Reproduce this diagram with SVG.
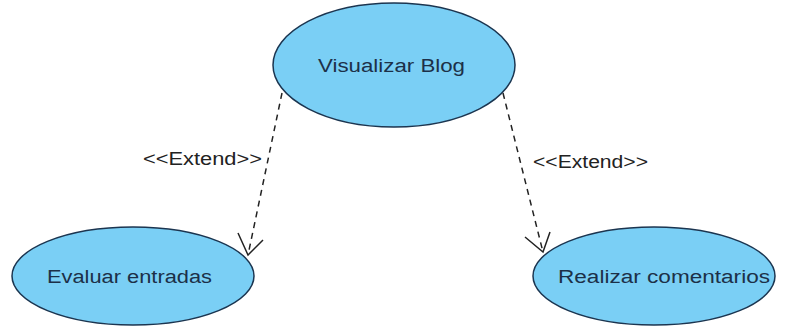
<svg xmlns="http://www.w3.org/2000/svg" width="785" height="328" viewBox="0 0 785 328">
<defs>
<style>
.uc{fill:#7acff5;stroke:#1b3550;stroke-width:1.5}
.t{font-family:"Liberation Sans",Arial,sans-serif;font-size:18px;fill:#1c3048}
.lbl{font-family:"Liberation Sans",Arial,sans-serif;font-size:18px;fill:#222}
.dep{fill:none;stroke:#222;stroke-width:1.5;stroke-dasharray:6,5}
.head{fill:none;stroke:#222;stroke-width:1.5}
</style>
</defs>
<rect width="785" height="328" fill="#ffffff"/>
<g id="connectors">
<path class="dep" d="M282,93 L248,255"/>
<path class="head" d="M238,233 L248,255 L263,240"/>
<text class="lbl" x="143" y="165" textLength="119" lengthAdjust="spacingAndGlyphs">&lt;&lt;Extend&gt;&gt;</text>
<path class="dep" d="M503,93 L543,252"/>
<path class="head" d="M525,237 L543,252 L550,232"/>
<text class="lbl" x="533" y="168" textLength="115" lengthAdjust="spacingAndGlyphs">&lt;&lt;Extend&gt;&gt;</text>
</g>
<g id="visualizar">
<ellipse class="uc" cx="394" cy="65" rx="121" ry="62"/>
<text class="t" x="318" y="72" textLength="147" lengthAdjust="spacingAndGlyphs">Visualizar Blog</text>
</g>
<g id="evaluar">
<ellipse class="uc" cx="133" cy="276" rx="121" ry="49"/>
<text class="t" x="47" y="283" textLength="165" lengthAdjust="spacingAndGlyphs">Evaluar entradas</text>
</g>
<g id="realizar">
<ellipse class="uc" cx="654" cy="276" rx="121" ry="49"/>
<text class="t" x="558" y="283" textLength="212" lengthAdjust="spacingAndGlyphs">Realizar comentarios</text>
</g>
</svg>
